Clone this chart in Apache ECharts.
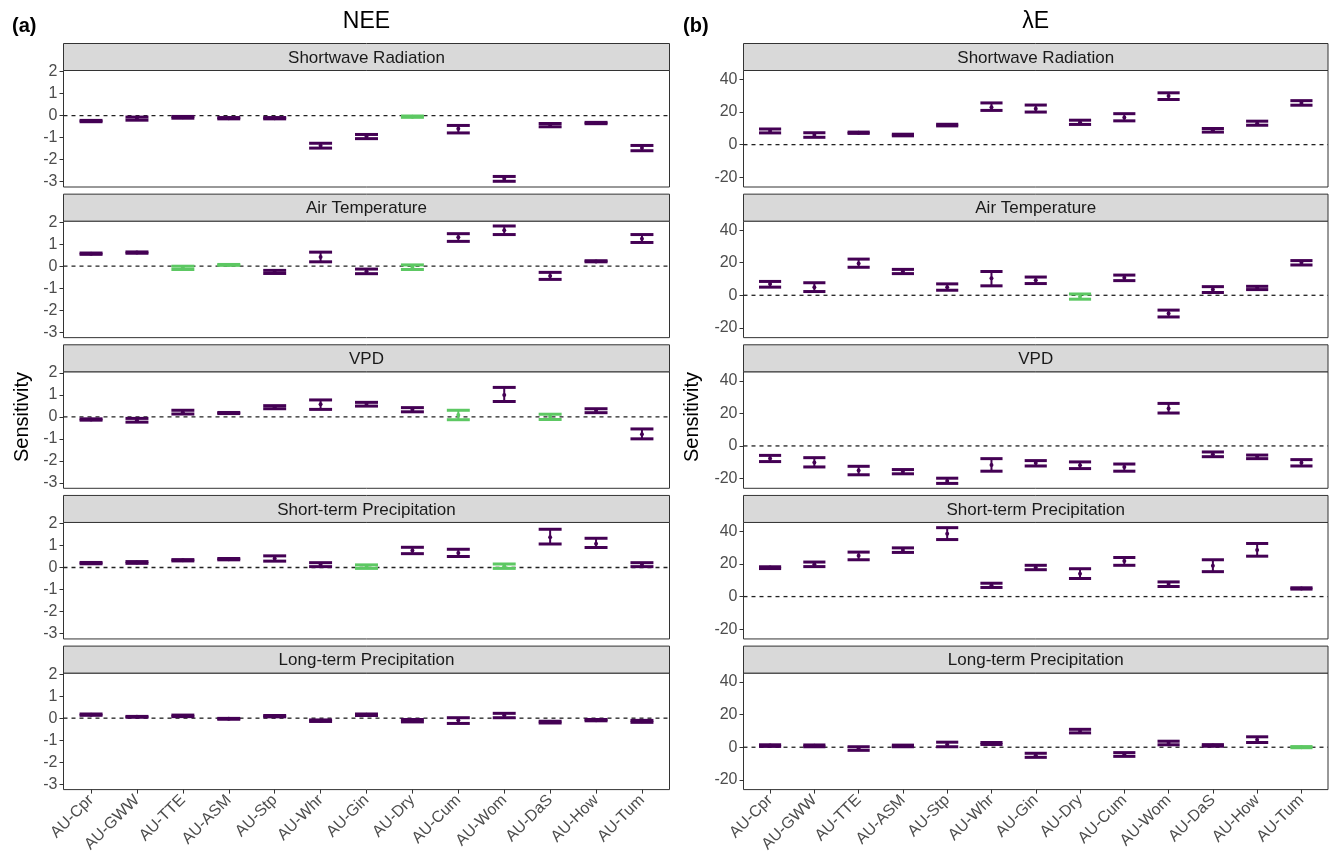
<!DOCTYPE html>
<html>
<head>
<meta charset="utf-8">
<script src="https://cdn.jsdelivr.net/npm/echarts@6/dist/echarts.min.js"></script>
<style>
  html, body { margin: 0; padding: 0; background: #fff; }
  #chart { width: 1330px; height: 860px; }
</style>
</head>
<body>
<div id="chart"></div>
<script>
// Flux sites along the x axis
const sites = ['AU-Cpr', 'AU-GWW', 'AU-TTE', 'AU-ASM', 'AU-Stp', 'AU-Whr', 'AU-Gin',
               'AU-Dry', 'AU-Cum', 'AU-Wom', 'AU-DaS', 'AU-How', 'AU-Tum'];
const drivers = ['Shortwave Radiation', 'Air Temperature', 'VPD',
                 'Short-term Precipitation', 'Long-term Precipitation'];
const fluxTitles = ['NEE', 'λE'];
const panelTags = ['(a)', '(b)'];
const neeTicks = [-3, -2, -1, 0, 1, 2];
const leTicks = [-20, 0, 20, 40];

// Sensitivity per site: [mean, lower, upper]
const neeShortwave = [[-0.25, -0.28, -0.22], [-0.14, -0.21, -0.07], [-0.08, -0.12, -0.04], [-0.12, -0.15, -0.09],
  [-0.12, -0.15, -0.09], [-1.37, -1.48, -1.26], [-0.95, -1.05, -0.86], [-0.05, -0.08, -0.02], [-0.60, -0.79, -0.45],
  [-2.88, -2.99, -2.77], [-0.43, -0.51, -0.36], [-0.34, -0.37, -0.31], [-1.48, -1.60, -1.36]];
const neeAirTemp = [[0.57, 0.54, 0.60], [0.62, 0.59, 0.65], [-0.07, -0.15, 0.00], [0.06, 0.04, 0.08],
  [-0.26, -0.33, -0.19], [0.42, 0.20, 0.64], [-0.23, -0.34, -0.13], [-0.04, -0.15, 0.06], [1.32, 1.13, 1.48],
  [1.64, 1.44, 1.83], [-0.44, -0.60, -0.28], [0.22, 0.20, 0.25], [1.25, 1.08, 1.44]];
const neeVpd = [[-0.12, -0.15, -0.09], [-0.15, -0.24, -0.07], [0.21, 0.13, 0.30], [0.18, 0.15, 0.20],
  [0.44, 0.37, 0.51], [0.57, 0.34, 0.77], [0.58, 0.49, 0.66], [0.32, 0.23, 0.42], [0.08, -0.13, 0.30],
  [0.99, 0.70, 1.34], [0.00, -0.12, 0.12], [0.28, 0.19, 0.37], [-0.79, -1.00, -0.55]];
const neeShortPrecip = [[0.20, 0.17, 0.23], [0.23, 0.19, 0.27], [0.33, 0.30, 0.36], [0.38, 0.35, 0.41],
  [0.41, 0.29, 0.53], [0.13, 0.04, 0.22], [0.04, -0.04, 0.12], [0.77, 0.63, 0.92], [0.66, 0.50, 0.83],
  [0.06, -0.04, 0.16], [1.38, 1.07, 1.74], [1.08, 0.91, 1.33], [0.12, 0.04, 0.22]];
const neeLongPrecip = [[0.15, 0.13, 0.19], [0.06, 0.04, 0.08], [0.10, 0.07, 0.14], [-0.03, -0.05, -0.01],
  [0.08, 0.06, 0.12], [-0.12, -0.15, -0.08], [0.15, 0.12, 0.19], [-0.10, -0.17, -0.06], [-0.10, -0.24, 0.02],
  [0.13, 0.02, 0.22], [-0.18, -0.22, -0.14], [-0.09, -0.12, -0.06], [-0.14, -0.19, -0.10]];

const leShortwave = [[8.4, 7.2, 9.6], [5.9, 4.5, 7.3], [7.3, 6.9, 7.7], [5.9, 5.4, 6.4],
  [12.0, 11.5, 12.5], [23.0, 21.0, 25.6], [22.0, 20.0, 24.3], [13.7, 12.4, 15.0], [16.6, 14.6, 19.0],
  [29.8, 27.7, 31.8], [8.8, 7.7, 9.9], [13.0, 11.9, 14.4], [25.5, 24.2, 27.0]];
const leAirTemp = [[6.9, 5.0, 8.5], [5.0, 2.3, 7.7], [19.5, 17.2, 22.2], [14.6, 13.3, 15.9],
  [5.0, 3.1, 7.0], [10.5, 5.8, 14.6], [9.2, 7.2, 11.2], [-0.9, -2.4, 0.8], [10.8, 9.0, 12.4],
  [-11.2, -13.3, -9.1], [3.6, 1.7, 5.3], [4.6, 3.5, 5.5], [20.0, 18.6, 21.3]];
const leVpd = [[-7.7, -9.6, -5.8], [-10.2, -12.9, -7.2], [-15.1, -17.7, -12.5], [-15.8, -17.1, -14.5],
  [-21.5, -23.0, -19.8], [-11.7, -15.5, -7.8], [-10.5, -12.3, -9.0], [-11.8, -13.9, -9.8], [-13.0, -15.5, -11.1],
  [23.0, 20.2, 26.1], [-5.1, -6.6, -3.7], [-6.6, -7.8, -5.6], [-10.3, -12.3, -8.4]];
const leShortPrecip = [[17.8, 17.2, 18.3], [19.8, 18.4, 21.2], [25.0, 22.6, 27.3], [28.6, 27.1, 29.9],
  [38.5, 35.0, 42.3], [6.9, 5.6, 8.2], [17.8, 16.5, 19.2], [14.0, 11.1, 17.1], [21.8, 19.2, 24.0],
  [7.7, 6.2, 9.0], [18.9, 15.3, 22.6], [28.6, 24.8, 32.6], [5.0, 4.6, 5.4]];
const leLongPrecip = [[1.0, 0.5, 1.5], [0.9, 0.3, 1.4], [-0.8, -1.9, 0.3], [0.8, 0.3, 1.3],
  [1.7, 0.3, 3.1], [2.2, 1.7, 2.9], [-4.9, -6.2, -3.7], [9.9, 8.8, 11.0], [-4.4, -5.6, -3.3],
  [2.6, 1.5, 3.7], [1.1, 0.6, 1.6], [4.6, 2.9, 6.4], [0.0, -0.3, 0.4]];

// Indices of sites whose sensitivity is not significant (drawn in green)
const neeShortwaveNs = [7];
const neeAirTempNs = [2, 3, 7];
const neeVpdNs = [8, 10];
const neeShortPrecipNs = [6, 9];
const neeLongPrecipNs = [];
const leShortwaveNs = [];
const leAirTempNs = [7];
const leVpdNs = [];
const leShortPrecipNs = [];
const leLongPrecipNs = [12];

const columns = [
  { values: [neeShortwave, neeAirTemp, neeVpd, neeShortPrecip, neeLongPrecip],
    ns: [neeShortwaveNs, neeAirTempNs, neeVpdNs, neeShortPrecipNs, neeLongPrecipNs],
    ticks: neeTicks, min: -3.25, max: 2.05 },
  { values: [leShortwave, leAirTemp, leVpd, leShortPrecip, leLongPrecip],
    ns: [leShortwaveNs, leAirTempNs, leVpdNs, leShortPrecipNs, leLongPrecipNs],
    ticks: leTicks, min: -26, max: 45.5 }
];

// Layout
const PURPLE = '#440154';
const GREEN = '#5DC863';
const FONT = '"Liberation Sans", Arial, sans-serif';
const COL_LEFT = [63.5, 743.5];
const COL_WIDTH = [606, 584.5];
const STRIP_TOP = 43.5;
const PITCH = 150.65;
const STRIP_H = 27;
const PLOT_H = 116.5;
const X_MIN = -0.6, X_MAX = sites.length - 1 + 0.6;
const siteIdx = sites.map((s, i) => i);

function renderErrorBar(params, api) {
  const x = api.value(0);
  const pMean = api.coord([x, api.value(1)]);
  const pLo = api.coord([x, api.value(2)]);
  const pHi = api.coord([x, api.value(3)]);
  const half = api.size([0.25, 0])[0];
  const color = api.value(4) ? GREEN : PURPLE;
  const cap = (p) => ({
    type: 'line',
    shape: { x1: p[0] - half, y1: p[1], x2: p[0] + half, y2: p[1] },
    style: { stroke: color, lineWidth: 3 }
  });
  return {
    type: 'group',
    children: [
      { type: 'line', shape: { x1: pLo[0], y1: pLo[1], x2: pHi[0], y2: pHi[1] },
        style: { stroke: color, lineWidth: 2 } },
      cap(pLo), cap(pHi),
      { type: 'circle', shape: { cx: pMean[0], cy: pMean[1], r: 2 }, style: { fill: color } }
    ]
  };
}

const grid = [], xAxis = [], yAxis = [], series = [], graphic = [];

columns.forEach((col, c) => {
  const left = COL_LEFT[c], width = COL_WIDTH[c];
  graphic.push({
    type: 'text', x: left + width / 2, y: 22,
    style: { text: fluxTitles[c], font: '23px ' + FONT, fill: '#000',
             align: 'center', verticalAlign: 'middle' }
  });
  graphic.push({
    type: 'text', x: c === 0 ? 12 : 683, y: 26,
    style: { text: panelTags[c], font: 'bold 20px ' + FONT, fill: '#000', verticalAlign: 'middle' }
  });
  graphic.push({
    type: 'text', x: c === 0 ? 22 : 692, y: 417, rotation: Math.PI / 2,
    style: { text: 'Sensitivity', font: '20px ' + FONT, fill: '#000',
             align: 'center', verticalAlign: 'middle' }
  });

  drivers.forEach((driver, r) => {
    const k = grid.length;
    const stripTop = STRIP_TOP + r * PITCH;
    const isBottom = r === drivers.length - 1;
    graphic.push({
      type: 'rect', shape: { x: left, y: stripTop, width: width, height: STRIP_H },
      style: { fill: '#d9d9d9', stroke: '#333', lineWidth: 1 }
    });
    graphic.push({
      type: 'text', x: left + width / 2, y: stripTop + STRIP_H / 2 + 1,
      style: { text: driver, font: '17px ' + FONT, fill: '#1a1a1a',
               align: 'center', verticalAlign: 'middle' }
    });
    grid.push({
      left: left, top: stripTop + STRIP_H, width: width, height: PLOT_H,
      show: true, borderColor: '#333', borderWidth: 1, backgroundColor: 'transparent'
    });
    xAxis.push({
      type: 'value', gridIndex: k, min: X_MIN, max: X_MAX,
      axisLine: { show: false, onZero: false },
      splitLine: { show: false },
      axisTick: { show: isBottom, customValues: siteIdx, length: 4, lineStyle: { color: '#333' } },
      axisLabel: {
        show: isBottom, customValues: siteIdx, rotate: 45, margin: 8,
        color: '#4d4d4d', fontSize: 16, fontFamily: FONT,
        formatter: (v) => sites[Math.round(v)]
      }
    });
    yAxis.push({
      type: 'value', gridIndex: k, min: col.min, max: col.max,
      axisLine: { show: false, onZero: false },
      splitLine: { show: false },
      axisTick: { show: true, customValues: col.ticks, length: 4, lineStyle: { color: '#333' } },
      axisLabel: { customValues: col.ticks, margin: 6, color: '#4d4d4d', fontSize: 16, fontFamily: FONT }
    });
    // dashed zero reference
    series.push({
      type: 'line', xAxisIndex: k, yAxisIndex: k, silent: true, symbol: 'none', z: 1,
      data: [[X_MIN, 0], [X_MAX, 0]],
      lineStyle: { color: '#222', width: 1.3, type: [4, 4] }
    });
    const nsSet = col.ns[r];
    series.push({
      type: 'custom', xAxisIndex: k, yAxisIndex: k, z: 2, silent: true,
      renderItem: renderErrorBar,
      encode: { x: 0, y: [1, 2, 3] },
      data: col.values[r].map((v, i) => [i, v[0], v[1], v[2], nsSet.includes(i) ? 1 : 0])
    });
  });
});

const chart = echarts.init(document.getElementById('chart'), null, { renderer: 'canvas' });
chart.setOption({
  animation: false,
  backgroundColor: '#fff',
  grid, xAxis, yAxis, series, graphic
});
</script>
</body>
</html>
